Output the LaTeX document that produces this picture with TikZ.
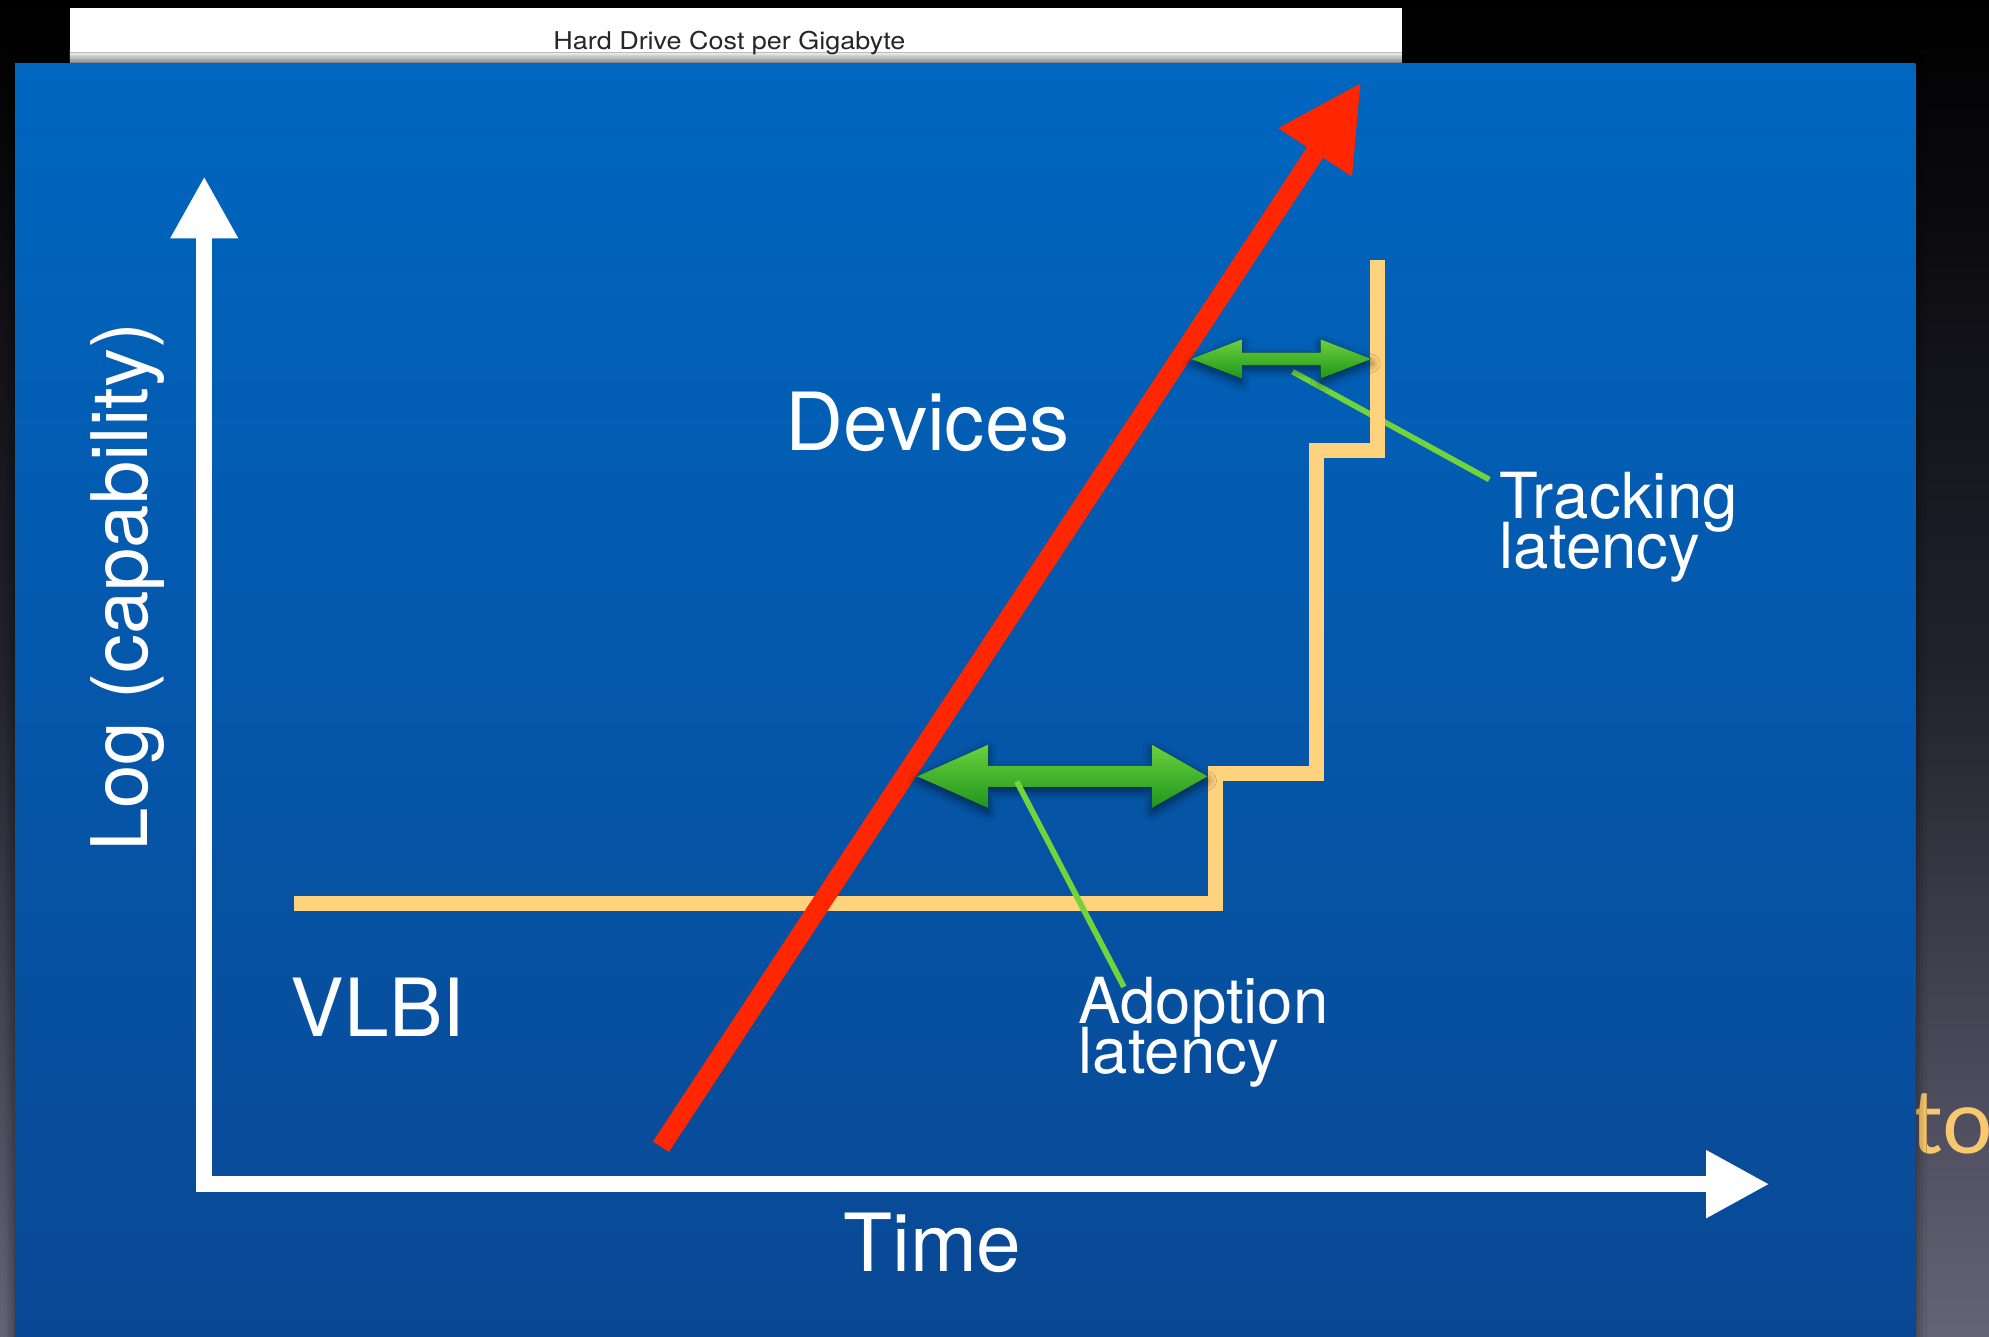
\documentclass[tikz,border=0pt]{standalone}
\usepackage{fontspec}
\usepackage{graphicx}
\setmainfont{TeX Gyre Heros}
\newfontfamily\slidefont{Lato}
\usetikzlibrary{arrows.meta,calc,shadows.blur}
\setlength{\lineskiplimit}{-100pt}

\definecolor{bluetop}{RGB}{0,102,192}
\definecolor{bluebot}{RGB}{9,72,148}
\definecolor{bgmid}{RGB}{34,34,46}
\definecolor{bgbot}{RGB}{100,100,118}
\definecolor{stepcol}{RGB}{255,210,125}
\definecolor{redcol}{RGB}{255,38,0}
\definecolor{pointcol}{RGB}{112,212,58}
\definecolor{greenlight}{RGB}{108,208,60}
\definecolor{greendark}{RGB}{30,150,30}
\definecolor{goldcol}{RGB}{248,200,110}

\begin{document}
\begin{tikzpicture}[x=0.02cm, y=-0.02cm,
		tlaxis/.style={white, line width=0.25cm, line join=miter,
			{Triangle[length=0.98cm,width=1cm]}-{Triangle[length=1cm,width=1cm]}},
		stairs/.style={stepcol, line width=0.24cm, line join=miter},
		growth/.style={redcol, line width=0.3cm, -{Triangle[length=1.32cm,width=1.3cm]}},
		fatarrow/.style={top color=greenlight, bottom color=greendark,
			blur shadow={shadow xshift=0pt, shadow yshift=-2pt, shadow blur radius=4pt, shadow opacity=55}},
		pointer/.style={pointcol, line width=0.09cm},
		biglabel/.style={white, inner sep=0pt, font=\fontsize{36}{40}\selectfont},
		smalllabel/.style={white, inner sep=0pt, align=left, font=\fontsize{28.5}{22.4}\selectfont}]
		\useasboundingbox (0,0) rectangle (1568,1054);
		
		%backdrop
		\fill[top color=black, bottom color=bgbot, middle color=bgmid] (0,0) rectangle (1568,1054);
		\node[anchor=base west, inner sep=0pt, text=goldcol, font=\slidefont\fontsize{40}{44}\selectfont] (tofrag) at (1506,909) {to};
		
		%slide behind
		\fill[white] (55,6) rectangle (1105,50);
		\shade[top color=white, bottom color=gray!55] (55,40) rectangle (1105,50);
		\node[anchor=base, inner sep=0pt, text=black!85] (title) at (575,39)
			{\scalebox{1.1}[1]{\fontsize{11}{13}\selectfont Hard Drive Cost per Gigabyte}};
		
		%panel
		\fill[top color=bluetop, bottom color=bluebot,
			blur shadow={shadow xshift=0pt, shadow yshift=0pt, shadow blur radius=5pt, shadow opacity=60}]
			(12,50) rectangle (1510,1054);
		
		%axes
		\coordinate (origin) at (161,933.5);
		\coordinate (ytip) at (161,139);
		\coordinate (xtip) at (1395,933.5);
		\draw[tlaxis] (ytip) -- (origin) -- (xtip);
		
		%labels
		\node[biglabel, anchor=base west] (devices) at (619,355) {Devices};
		\node[biglabel, anchor=base west] (vlbi) at (229,817) {VLBI};
		\node[biglabel, anchor=base] (time) at (735,1002) {Time};
		\node[biglabel, rotate=90, anchor=base, font=\fontsize{35}{40}\selectfont] (capability) at (116,463) {Log (capability)};
		\node[smalllabel, anchor=north west] (track) at (1182,372) {Tracking\\latency};
		\node[smalllabel, anchor=north west] (adopt) at (850,770) {Adoption\\latency};
		
		%tracking pointer (under the steps)
		\coordinate (trackA) at (1019,293);
		\draw[pointer] (trackA) -- ($(track.north west)+(-8,6)$);
		
		%VLBI steps
		\draw[stairs] (232,712) -- (958,712) -- (958,610) -- (1038,610) -- (1038,355) -- (1086,355) -- (1086,205);
		
		%devices
		\coordinate (redstart) at (521,904);
		\coordinate (redtip) at (1073,65);
		\draw[growth] (redstart) -- (redtip);
		
		%latencies
		\coordinate (adoptL) at (723,612);
		\coordinate (adoptR) at (952,612);
		\fill[fatarrow] (adoptL) -- ++(56,-25) -- ++(0,16.7) -- ($(adoptR)+(-44,-8.3)$) -- ++(0,-16.7) -- (adoptR)
			-- ++(-44,25) -- ++(0,-16.7) -- ($(adoptL)+(56,8.3)$) -- ++(0,16.7) -- cycle;
		\coordinate (trackL) at (939,283);
		\coordinate (trackR) at (1081,283);
		\fill[fatarrow] (trackL) -- ++(40,-15.5) -- ++(0,10.4) -- ($(trackR)+(-40,-5.1)$) -- ++(0,-10.4) -- (trackR)
			-- ++(-40,15.5) -- ++(0,-10.4) -- ($(trackL)+(40,5.1)$) -- ++(0,10.4) -- cycle;
		
		\coordinate (adoptA) at (801.5,616);
		\draw[pointer] (adoptA) -- ($(adopt.north west)+(36,8)$);
\end{tikzpicture}
\end{document}
